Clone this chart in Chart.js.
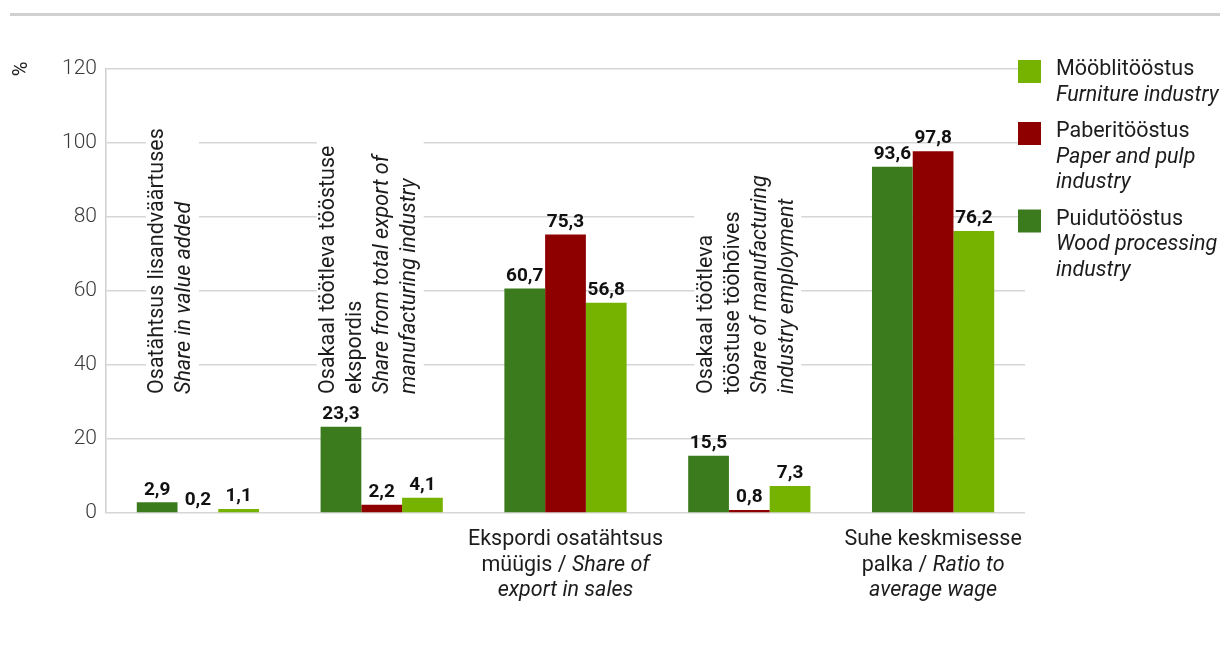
<!DOCTYPE html>
<html>
<head>
<meta charset="utf-8">
<script src="https://cdn.jsdelivr.net/npm/chart.js@4.4.1/dist/chart.umd.min.js"></script>
<style>
  body { margin: 0; background: #fff; }
</style>
</head>
<body>
<canvas id="chart" width="1220" height="647"></canvas>
<script>
// category labels, "*...*" = italic part
const categories = [
    ["Osatähtsus lisandväärtuses", "*Share in value added*"],
    ["Osakaal töötleva tööstuse", "ekspordis", "*Share from total export of*", "*manufacturing industry*"],
    ["Ekspordi osatähtsus", "müügis / *Share of*", "*export in sales*"],
    ["Osakaal töötleva", "tööstuse tööhõives", "*Share of manufacturing*", "*industry employment*"],
    ["Suhe keskmisesse", "palka / *Ratio to*", "*average wage*"]
];
const verticalLabel = [true, true, false, true, false];

const puidutoostus = [2.9, 23.3, 60.7, 15.5, 93.6];
const paberitoostus = [0.2, 2.2, 75.3, 0.8, 97.8];
const mooblitoostus = [1.1, 4.1, 56.8, 7.3, 76.2];

const legendPuidu = ["Puidutööstus", "*Wood processing*", "*industry*"];
const legendPaber = ["Paberitööstus", "*Paper and pulp*", "*industry*"];
const legendMoobli = ["Mööblitööstus", "*Furniture industry*"];

const yMin = 0;
const yMax = 120;
const yStep = 20;
const yUnit = "%";

const GREEN_DARK = "#3b7a1d";
const RED = "#8e0000";
const GREEN_LIGHT = "#75b300";
const FONT = "Roboto, 'Liberation Sans', sans-serif";
const TEXT = "#1c1c1c";
const LABEL_SIZE = 21.5;

// where the rotated labels start, relative to the category centre
const vertOffset = [-40, -53, 0, -43, 0];

function drawRich(ctx, line, x, y, align, size) {
    const parts = line.split("*");
    let total = 0;
    const widths = parts.map((p, i) => {
        ctx.font = (i % 2 ? "italic " : "") + size + "px " + FONT;
        const w = ctx.measureText(p).width;
        total += w;
        return w;
    });
    let cx = x;
    if (align === "center") cx = x - total / 2;
    if (align === "right") cx = x - total;
    ctx.textAlign = "left";
    parts.forEach((p, i) => {
        ctx.font = (i % 2 ? "italic " : "") + size + "px " + FONT;
        ctx.fillText(p, cx, y);
        cx += widths[i];
    });
    return total;
}

function richWidth(ctx, line, size) {
    let total = 0;
    line.split("*").forEach((p, i) => {
        ctx.font = (i % 2 ? "italic " : "") + size + "px " + FONT;
        total += ctx.measureText(p).width;
    });
    return total;
}

const decorPlugin = {
    id: "decor",
    beforeDraw(chart) {
        const ctx = chart.ctx;
        ctx.save();
        ctx.fillStyle = "#fff";
        ctx.fillRect(0, 0, chart.width, chart.height);
        ctx.strokeStyle = "#d0d0d0";
        ctx.lineWidth = 3;
        ctx.beginPath();
        ctx.moveTo(10, 14.5);
        ctx.lineTo(chart.width, 14.5);
        ctx.stroke();
        // unit, rotated
        ctx.translate(22, chart.chartArea.top);
        ctx.rotate(-Math.PI / 2);
        ctx.fillStyle = TEXT;
        ctx.font = "20px " + FONT;
        ctx.textAlign = "center";
        ctx.textBaseline = "middle";
        ctx.fillText(yUnit, 0, 0);
        ctx.restore();
    },
    beforeDatasetsDraw(chart) {
        // category labels (vertical ones cover the grid with white)
        const ctx = chart.ctx;
        const xs = chart.scales.x;
        ctx.save();
        ctx.fillStyle = TEXT;
        ctx.textBaseline = "middle";
        categories.forEach((lines, i) => {
            const cx = xs.getPixelForValue(i);
            if (verticalLabel[i]) {
                const lh = 27;
                let maxW = 0;
                lines.forEach(l => { maxW = Math.max(maxW, richWidth(ctx, l, LABEL_SIZE)); });
                ctx.save();
                ctx.translate(cx + vertOffset[i], 394);
                ctx.rotate(-Math.PI / 2);
                ctx.fillStyle = "#fff";
                ctx.fillRect(-4, -12, maxW + 8, (lines.length - 1) * lh + 26);
                ctx.fillStyle = TEXT;
                lines.forEach((l, k) => drawRich(ctx, l, 0, k * lh, "left", LABEL_SIZE));
                ctx.restore();
            } else {
                lines.forEach((l, k) => drawRich(ctx, l, cx, 540 + k * 25.5, "center", LABEL_SIZE));
            }
        });
        ctx.restore();
    },
    afterDatasetsDraw(chart) {
        const ctx = chart.ctx;
        ctx.save();
        ctx.fillStyle = "#111";
        ctx.font = "bold 19px " + FONT;
        ctx.textAlign = "center";
        ctx.textBaseline = "bottom";
        chart.data.datasets.forEach((ds, di) => {
            chart.getDatasetMeta(di).data.forEach((bar, i) => {
                ctx.fillText(String(ds.data[i]).replace(".", ","), bar.x, bar.y - 3);
            });
        });
        ctx.restore();
    },
    afterDraw(chart) {
        // legend on the right
        const ctx = chart.ctx;
        const items = [
            [GREEN_LIGHT, legendMoobli],
            [RED, legendPaber],
            [GREEN_DARK, legendPuidu]
        ];
        ctx.save();
        ctx.textBaseline = "middle";
        let y = 70;
        items.forEach(([color, lines]) => {
            ctx.fillStyle = color;
            ctx.fillRect(1018, y - 10, 23, 23);
            ctx.fillStyle = TEXT;
            lines.forEach((l, k) => drawRich(ctx, l, 1056, y + k * 25.5, "left", LABEL_SIZE));
            y += lines.length * 25.5 + 11;
        });
        ctx.restore();
    }
};

new Chart(document.getElementById("chart"), {
    type: "bar",
    data: {
        labels: categories,
        datasets: [
            { label: legendPuidu.join(" "), data: puidutoostus, backgroundColor: GREEN_DARK },
            { label: legendPaber.join(" "), data: paberitoostus, backgroundColor: RED },
            { label: legendMoobli.join(" "), data: mooblitoostus, backgroundColor: GREEN_LIGHT }
        ]
    },
    options: {
        responsive: false,
        animation: false,
        devicePixelRatio: 1,
        layout: { padding: { left: 10, top: 69, right: 195, bottom: 0 } },
        datasets: {
            bar: { barPercentage: 1, categoryPercentage: 0.665, borderWidth: 0 }
        },
        plugins: {
            legend: { display: false },
            tooltip: { enabled: false }
        },
        scales: {
            x: {
                grid: { display: false },
                border: { display: false },
                ticks: { display: false },
                afterFit: s => { s.height = 134; }
            },
            y: {
                min: yMin,
                max: yMax,
                ticks: {
                    stepSize: yStep,
                    padding: 9,
                    color: "#3a3a3a",
                    font: { family: FONT, size: 21, weight: "300" }
                },
                grid: { color: "#d6d6d6", lineWidth: 1.5, drawTicks: false },
                border: { color: "#cfcfcf", width: 1.5 },
                afterFit: s => { s.width = 96; }
            }
        }
    },
    plugins: [decorPlugin]
});
</script>
</body>
</html>
